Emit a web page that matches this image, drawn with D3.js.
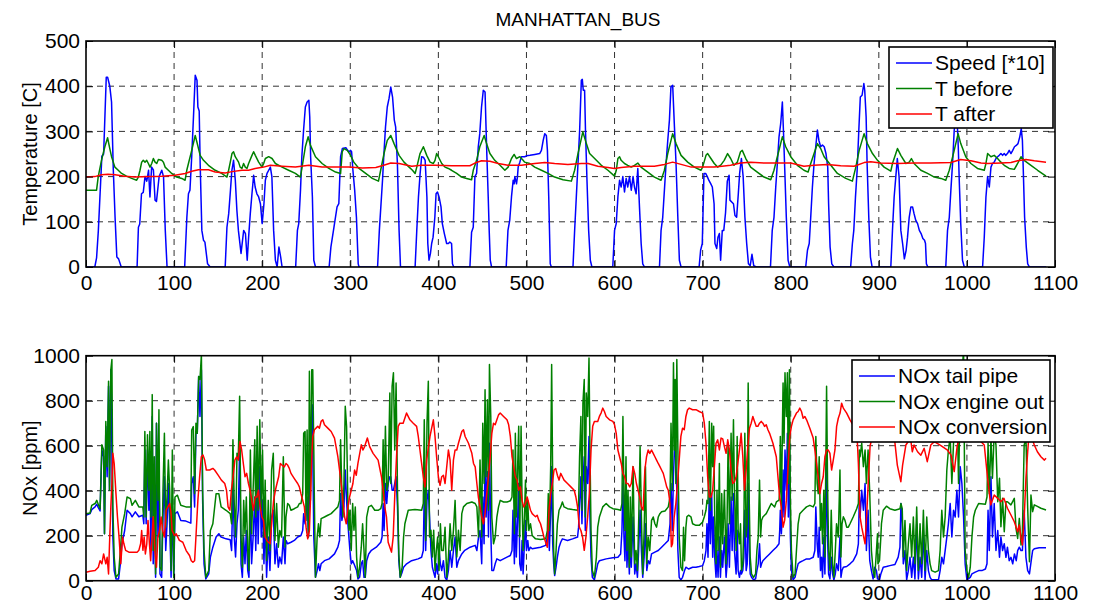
<!DOCTYPE html>
<html>
<head>
<meta charset="utf-8">
<script src="https://cdn.jsdelivr.net/npm/d3@7"></script>
<style>
  html, body { margin: 0; padding: 0; background: #fff; }
  svg { display: block; font-family: "Liberation Sans", Arial, Helvetica, sans-serif; }
</style>
</head>
<body>
<svg id="chart" width="1096" height="609"></svg>
<script>
// ---- Top panel: speed (x10) and catalyst temperatures, [time s, value] ----
const speed = [[0,0],[10,0],[12,20],[14,80],[18,245],[20,250],[23,420],[24.5,420],[27,400],[29,365],[31,215],[33,110],[35,22],[37,18],[40,0],[58,0],[59.5,88],[61,95],[63,162],[65,165],[67,200],[69,190],[71,214],[72.6,155],[74.5,221],[76.5,215],[78.4,148],[80,145],[83,200],[86,214],[88,200],[90,81],[92,0],[112,0],[114.5,110],[116.3,162],[118,170],[120,244],[122,332],[124,424],[126,413],[127,354],[128.5,345],[129.6,229],[131.5,81],[133.4,59],[135,55],[138,7],[141,0],[158,0],[160,88],[162,118],[164,170],[165.6,214],[167.5,236],[169.5,192],[171.3,125],[173,81],[176,30],[179,81],[181,74],[183,15],[184.6,66],[186.5,118],[188.4,162],[190.3,203],[192,177],[194,162],[196,155],[198,140],[200,96],[202,140],[203.6,192],[205.5,207],[207.4,214],[209.3,221],[211,200],[213,81],[215,15],[217,0],[219,44],[221,22],[222.6,0],[238,0],[240,81],[241.5,96],[243.5,170],[245,244],[247,303],[249,354],[251,365],[253,369],[254,332],[255,244],[257,155],[258.6,15],[260.5,0],[276,0],[278,44],[281.5,88],[285,133],[287,140],[289,244],[291,262],[295,264],[297,258],[298.5,255],[300.4,258],[301.5,255],[303,214],[305,170],[307,110],[309,7],[310,0],[331,0],[333,81],[336.6,192],[338,244],[340,310],[342,354],[344,373],[346,398],[348,376],[350,325],[351.5,310],[353.5,229],[355.4,81],[357,0],[373.6,0],[375.5,81],[377.4,155],[379.3,207],[381,244],[383,243],[385,236],[387,155],[388,52],[389.4,15],[391,30],[392.4,52],[394,66],[396,110],[397.4,162],[399,166],[400.8,155],[403,133],[404.5,96],[406.8,74],[409.4,52],[411.3,52],[413,55],[415,52],[416,7],[417.4,0],[435.8,0],[437.7,77],[439.6,88],[441.5,200],[443.4,207],[445.3,266],[447,295],[449,354],[451,391],[453,387],[454,317],[455.1,244],[456.6,155],[457.7,81],[458.9,15],[460.4,0],[477,0],[479,81],[481,103],[483,155],[484.9,192],[486,184],[486.8,200],[488.7,184],[489.8,200],[490.6,221],[492.5,232],[494.3,244],[498,244],[500,246],[504,247],[509.4,249],[515,251],[517,258],[519,280],[520.8,295],[522.6,291],[523.8,258],[525.3,155],[527,7],[528.3,0],[552.8,0],[554.7,81],[556.6,155],[558.5,229],[560.4,303],[562.3,413],[563.4,415],[564.5,391],[566,391],[567,303],[568.7,192],[570.6,81],[572.5,15],[574.3,0],[598,0],[600,81],[601.9,96],[603.8,155],[605.7,192],[607.5,177],[609.4,200],[611.3,166],[613.2,196],[615,177],[617,200],[619,170],[621,200],[622.6,177],[624.5,162],[626.4,218],[628.3,133],[630.2,52],[632,7],[634,0],[651,0],[652.8,81],[654.7,110],[656.6,170],[658.5,229],[660.4,280],[662.3,325],[664,398],[666,402],[668,310],[669.8,229],[671.7,118],[673.6,15],[675.5,0],[696,0],[697.7,37],[699.6,52],[701.5,207],[703.4,207],[705.3,200],[707,192],[709,185],[711,177],[713,140],[714,52],[716,41],[717.4,66],[719,74],[720.4,15],[722.3,81],[724,81],[726,120],[728,190],[730,203],[731,148],[733,144],[735,140],[736.7,114],[738.6,110],[740.5,162],[742,207],[744,240],[746,200],[748,110],[750,52],[752,7],[754,3],[756,28],[758,3],[761,0],[777,0],[779,81],[781,110],[783,177],[784.8,229],[786.7,288],[788.6,317],[790.5,365],[791.7,303],[793,229],[795,110],[797,15],[799,0],[817,0],[819,37],[821,52],[822.7,110],[824.6,177],[826.5,229],[828.4,266],[830.3,303],[832,280],[834,266],[836,270],[838,266],[840,251],[842,221],[843,140],[844.7,44],[846.6,7],[849,0],[868,0],[870,52],[871.6,81],[873.5,155],[875.4,214],[877.3,303],[879,376],[881,380],[883,406],[884,391],[885.6,332],[886.7,229],[888.6,110],[890.5,22],[892.4,0],[913.6,0],[915.5,81],[917.4,155],[919.3,200],[921,240],[923,200],[925,81],[927,52],[929,18],[931,37],[932.6,66],[934.5,110],[936.4,133],[938.3,133],[940,118],[942,103],[944,96],[946,81],[948,74],[950,63],[951.9,59],[953,52],[954,7],[955.7,0],[976,0],[978,81],[980,110],[981.8,170],[983.7,229],[985.6,303],[987.5,330],[989,320],[990.2,266],[991.3,192],[993,96],[995,15],[997,0],[1017.8,0],[1019.7,66],[1021.6,155],[1023.5,200],[1025.4,177],[1027.3,221],[1029,229],[1031,232],[1033,240],[1034.8,244],[1036.7,247],[1038.6,251],[1040.5,247],[1042.4,251],[1044,247],[1046,251],[1048,258],[1050,251],[1052,258],[1054,266],[1056,269],[1058,273],[1060,288],[1061.7,306],[1063,280],[1064,214],[1065.5,110],[1067.4,44],[1069,7],[1071,0],[1090,0]];

const tBefore = [[0,170],[12,170],[13.9,200],[17.6,236],[21.4,266],[24.5,286],[27,262],[29,244],[32.8,221],[36.6,214],[40.4,207],[46,201],[51.8,196],[57.5,192],[59.4,199],[61.3,214],[63.2,232],[65,236],[67,232],[68.9,236],[70.8,229],[72.7,221],[74.6,229],[76.5,240],[78.4,232],[80.3,229],[82.2,238],[86,236],[87.9,232],[89.8,221],[93.5,214],[97.3,207],[103,199],[108.7,196],[112.5,192],[114.4,214],[116.3,229],[120,258],[124,291],[125.8,277],[129.6,247],[133.4,236],[139,225],[146.7,214],[154,207],[160,199],[161.9,214],[163.8,232],[165.7,251],[167.5,255],[169.4,244],[173.2,232],[175,221],[177,218],[178.9,229],[180.8,221],[182.7,218],[184.6,229],[188.4,247],[190.3,255],[192.2,247],[196,232],[199.8,221],[201.7,229],[203.6,240],[207.4,244],[211.2,240],[215,229],[222.6,221],[230,214],[237.7,207],[243.4,199],[245.3,221],[249,266],[252.2,288],[254.8,269],[260.5,244],[268,229],[275.7,218],[283.3,210],[289,207],[290.9,255],[292.8,262],[296.6,258],[300.4,247],[304,232],[309.9,218],[317.5,207],[325,196],[332,190],[334.5,214],[338.3,251],[342,280],[346,291],[349.7,273],[355.4,247],[361,232],[366.8,221],[370.6,214],[373.6,207],[375.5,221],[379.2,251],[383,266],[386.8,247],[390.6,232],[394.3,229],[396.2,236],[398,251],[400,244],[403.8,229],[407.5,221],[411.3,218],[415,214],[420.8,207],[426.4,199],[432,196],[437.7,193],[439.6,214],[443.4,236],[447,266],[452,291],[454.7,273],[458.5,251],[464,236],[470,225],[475.5,214],[479.2,221],[483,240],[486,249],[488.7,240],[492.5,244],[496.2,236],[498,232],[503.8,229],[509.4,221],[517,214],[524.5,207],[532,199],[541.5,193],[551,190],[554.7,214],[558.5,251],[564,299],[568,273],[571.7,251],[577.4,240],[585,225],[592.5,214],[600,201],[602,214],[603.8,240],[605.7,244],[607.5,236],[611.3,229],[615,225],[619,221],[622.6,225],[626.4,230],[630,221],[637.7,210],[645.3,199],[652.8,192],[656.6,214],[660.4,251],[666,295],[669.8,273],[675.5,247],[683,232],[690.6,221],[698,214],[700,221],[703.8,247],[705.7,251],[709.4,240],[713.2,229],[717,221],[720.8,226],[724.5,236],[728.3,251],[731.8,240],[735.6,225],[739.4,232],[743,255],[745,258],[749,240],[754.5,221],[762,210],[769.7,199],[777.3,193],[781,214],[784.8,244],[790.5,288],[794.3,266],[800,244],[807.6,225],[815,214],[819.7,210],[822.7,229],[826.5,251],[830.3,273],[834,262],[837.9,244],[845.5,225],[853,207],[862.5,196],[870,190],[873.9,221],[877.7,258],[883.3,295],[887,273],[892.8,251],[898.5,236],[906,221],[913.6,212],[915.5,229],[919.3,251],[921.2,262],[925,247],[930.7,229],[934.5,232],[937,240],[940,229],[947.7,214],[955.3,207],[963,199],[970.5,196],[976,192],[980,214],[985.6,258],[990,295],[993,273],[998.7,244],[1004.5,229],[1012,218],[1019.7,214],[1021.6,229],[1023.5,251],[1027.3,244],[1031,247],[1034.8,240],[1038.6,232],[1042.4,225],[1048,218],[1053.8,216],[1057.6,229],[1061.4,244],[1065,236],[1072.7,225],[1080.3,214],[1089.8,201]];

const tAfter = [[0,199],[10,200],[17.6,204],[25,205],[33,204],[44,201],[55.6,199],[70.8,200],[86,201],[101,203],[112.5,207],[120,212],[127.7,215],[139,215],[146.7,210],[158,208],[165.7,211],[177,214],[184.6,214],[192,218],[201.7,221],[209.3,225],[222.6,223],[237.7,221],[253,225],[268,221],[283,221],[298.5,221],[313.7,219],[329,220],[338,225],[346,230],[355.4,229],[369.8,223],[381,225],[396,225],[415,224],[435.8,224],[441.5,230],[449,235],[458.5,234],[468,229],[479,225],[494.3,225],[509.4,229],[520.8,231],[532,229],[547,227],[562.3,229],[570,229],[581,223],[592.5,220],[600,218],[607.5,220],[622.6,223],[645.3,223],[656.6,227],[666,232],[675.5,227],[687,221],[698,221],[713,221],[722,223],[731.8,225],[743,230],[754.5,232],[769.7,230],[784.8,230],[800,230],[815,223],[826.5,225],[841.7,227],[856.8,224],[872,223],[883.3,231],[890.9,233],[902,230],[921,229],[940,230],[959,230],[981.8,231],[993,238],[1004.5,235],[1016,230],[1023.5,229],[1038.6,230],[1050,231],[1057.6,235],[1067,238],[1076.5,235],[1089.8,232]];

// ---- Bottom panel: NOx, [time s, ppm] ----
const noxTailPipe = [[0,291],[4.6,298],[6.5,316],[10.3,328],[12.2,340],[14,325],[16,310],[18,581],[20,551],[21,209],[22.5,685],[24,462],[25.6,864],[26.7,402],[28.2,938],[29.4,581],[30.5,194],[32,45],[34,8],[37,8],[39,75],[40.8,164],[43.9,223],[46.6,313],[50.4,298],[52.3,284],[56,306],[60,284],[64.5,291],[65.6,253],[66.8,581],[68.3,253],[69.8,581],[71.4,313],[72.5,492],[73.7,134],[75.2,730],[76.3,75],[77.5,432],[79,15],[80,700],[81.7,194],[82.8,581],[84,30],[85.9,15],[87.4,283],[89,462],[90.5,134],[92,253],[93.5,432],[95,253],[96.6,15],[98,357],[99.6,15],[101,298],[103.8,306],[107.6,268],[113.4,265],[119,256],[120,432],[121.8,462],[123.3,328],[124.8,655],[126.3,655],[127.9,908],[129.4,730],[131,938],[132.4,357],[134,75],[136,8],[139.3,30],[141.2,105],[144,149],[147.7,194],[150.8,209],[153.4,194],[159,186],[163.7,182],[165.3,134],[166.8,432],[168.3,194],[169.8,105],[171.4,253],[172.9,313],[174.4,581],[176,75],[177.5,15],[179,194],[180.5,75],[182,223],[183.6,45],[185,15],[186.6,357],[188,75],[189.7,194],[191.6,372],[192.7,134],[194.3,462],[195.4,164],[197.3,506],[198.9,194],[200.4,357],[202,75],[203.4,283],[205,15],[206.9,194],[208.8,45],[210.7,283],[212.6,313],[214.5,75],[216.4,164],[218.3,60],[220,105],[222,75],[224,194],[225.9,75],[227,179],[228.9,164],[232.7,171],[236.5,179],[240.3,194],[244,201],[246,223],[247.1,298],[248.7,253],[251,372],[252.5,194],[253.6,372],[255.5,611],[256.8,782],[258.6,194],[260.5,15],[262.4,45],[263.9,75],[265.4,45],[266.9,75],[270.7,89],[276,97],[282.1,119],[285.9,149],[287.8,179],[289,387],[290.5,268],[292.8,328],[294.3,492],[295.8,358],[297.3,253],[299.6,134],[301.1,75],[302.7,89],[304.2,75],[307.2,45],[308.7,8],[310.6,15],[312.5,75],[314,89],[315.6,15],[317,15],[318.6,89],[320.9,119],[324,135],[329.5,149],[334.6,171],[336.1,194],[337.3,343],[338.4,223],[339.9,432],[341.4,343],[343,432],[344.9,462],[346,462],[347.5,402],[349,402],[352,462],[353.6,328],[355.1,89],[356.7,15],[358.9,38],[360.5,60],[364,75],[369.6,89],[377,97],[381,104],[382.9,134],[384,402],[385.6,134],[387.1,358],[388.6,402],[390,283],[391.6,134],[393.2,60],[396.2,15],[397.7,75],[399.2,30],[400.8,134],[402.3,75],[403.8,45],[405.7,89],[407.6,15],[409.5,2],[411.4,45],[413.3,134],[415.2,60],[417.1,134],[419,194],[420.9,60],[422.8,89],[424.7,105],[426.6,119],[430,135],[436,149],[441.8,157],[443.7,134],[445.6,194],[447.3,223],[449.2,75],[450.4,372],[451.9,164],[453,611],[454.2,283],[455.7,484],[456.9,194],[458,611],[459.5,223],[460.7,45],[462.6,45],[464.5,75],[466.4,97],[470.2,89],[474,97],[477.9,105],[481.7,112],[483.6,134],[484.7,313],[486.3,75],[487.4,357],[488.5,105],[490,283],[491.2,432],[492.4,75],[493.9,45],[495,179],[496.2,30],[497.7,164],[498.9,268],[500,134],[501.5,179],[502.7,134],[504.6,149],[506.5,142],[516,149],[521.8,157],[523.7,194],[524.8,238],[526,134],[527.5,313],[528.6,507],[529.8,164],[530.9,75],[532,23],[533.6,60],[535.1,105],[537,149],[538.9,171],[540.8,186],[546.6,179],[552.3,186],[558,194],[559.2,238],[560.3,343],[561.8,462],[563,253],[564.1,432],[565.6,551],[566.8,223],[567.9,507],[569.5,432],[571,641],[572.1,283],[573.3,105],[574.8,15],[577.1,4],[579.4,45],[580.9,75],[582.8,89],[590.5,97],[598.1,102],[603.8,104],[606.9,119],[608.4,223],[609.5,432],[610.7,194],[611.8,89],[613,313],[614.1,60],[615.3,194],[616.8,30],[617.9,194],[619,60],[621,283],[622.9,30],[624.4,75],[626,15],[627.5,149],[629,313],[630.5,134],[632,15],[633.6,105],[635.1,253],[636.6,45],[638.2,89],[640,75],[642,119],[645.8,127],[649.6,134],[653.4,149],[657.3,164],[661,179],[663,253],[664.1,432],[665.6,223],[666.8,462],[668.7,641],[670.7,402],[671.9,134],[673.4,15],[675.3,4],[677.2,15],[679.5,45],[681,60],[684,52],[688.6,60],[692.4,60],[696.2,63],[700,67],[701.9,89],[703.8,134],[704.9,253],[706.1,104],[707.6,402],[708.7,164],[710.3,387],[711.4,104],[712.5,283],[713.7,104],[715.2,15],[716.3,134],[717.5,15],[719,194],[720.2,15],[721.7,134],[722.8,60],[724.7,194],[726.6,15],[727.8,75],[728.9,253],[730.4,60],[732.3,372],[733.5,134],[735,387],[736.1,134],[738,30],[739.2,224],[740.3,45],[741.8,15],[743,45],[744.1,30],[745.6,45],[746.8,104],[747.9,313],[749.4,45],[750.6,75],[751.7,432],[752.9,134],[754,30],[755.5,15],[757.8,4],[760.1,8],[761.6,45],[763.1,75],[764.6,164],[765.8,60],[766.9,75],[768.4,89],[772.2,104],[776,119],[779.8,134],[783.7,149],[786.7,164],[787.5,224],[788.2,313],[789.4,209],[790.5,313],[791.3,492],[792.4,283],[793.5,581],[795,402],[796.2,655],[797.3,283],[798.5,611],[799.6,194],[800.8,45],[802.7,4],[804.9,15],[806.5,45],[808.4,75],[810.3,82],[814,89],[817.9,97],[821.7,97],[825.5,104],[827.4,134],[828.5,328],[830,164],[831.2,104],[832.3,238],[833.8,45],[835,104],[836.1,15],[837.6,194],[838.8,30],[840.7,522],[841.8,194],[843,30],[844.5,8],[846,104],[847.5,30],[849,4],[850.6,30],[852,75],[854,45],[855.9,194],[857,15],[858.2,45],[859.7,60],[863.5,63],[867.3,75],[871,89],[874.9,119],[876.8,164],[877.9,372],[878.7,283],[880.6,402],[882.5,313],[884.4,432],[885.9,134],[887.8,313],[889.7,89],[891.6,45],[893.5,8],[895.4,60],[897.3,45],[898.5,8],[900.8,4],[902.3,30],[905,60],[908.7,63],[912.5,67],[918.3,72],[922,105],[924,149],[925.1,343],[926.6,253],[927.8,75],[929.7,134],[931.6,4],[933.5,45],[935.4,104],[937.3,15],[939.2,104],[941,8],[943,253],[944.9,8],[946.8,104],[948.7,15],[950.6,223],[952.5,4],[954.4,134],[956.3,45],[958.2,15],[960,4],[967.7,4],[969.6,45],[971.5,104],[973.4,75],[975.3,134],[977.2,194],[979,253],[981,343],[982.9,194],[984.8,313],[986.7,283],[988.6,402],[990.5,283],[992.4,507],[994.3,432],[996.2,283],[998,75],[1000,4],[1003.8,15],[1005.7,30],[1009.5,38],[1013.3,45],[1017,45],[1021,52],[1022.8,75],[1024,313],[1025.4,134],[1027.3,462],[1029,194],[1031,343],[1033,134],[1035,223],[1037,104],[1038.6,194],[1040.5,134],[1042.4,164],[1044.3,104],[1046,149],[1048,89],[1050,104],[1052,75],[1054,119],[1056,89],[1057.6,134],[1059.5,149],[1061.4,134],[1063,134],[1065,313],[1067,104],[1069,45],[1071,30],[1073,89],[1074.6,134],[1076.5,142],[1082,146],[1089.8,146]];

const noxEngineOut = [[0,298],[4.6,301],[6.5,335],[10.3,343],[12.2,357],[14,339],[16,320],[18,604],[20,581],[21,209],[22.5,708],[24,506],[25.6,886],[26.7,402],[28.2,938],[29.4,983],[30.5,328],[32,105],[34,15],[37,30],[39,134],[40.8,238],[43.9,298],[46.6,372],[50.4,365],[52.3,335],[56,357],[60,328],[64.5,328],[65.6,283],[66.8,663],[68.3,283],[69.8,649],[71.4,402],[72.5,663],[73.7,283],[75.2,827],[76.3,134],[77.5,551],[79,30],[80,700],[81.7,358],[82.8,760],[84,60],[85.9,45],[87.4,402],[89,655],[90.5,238],[92,372],[93.5,536],[95,402],[96.6,45],[98,581],[99.6,15],[101,372],[103.8,380],[107.6,335],[113.4,328],[119,328],[120,670],[121.8,685],[123.3,387],[124.8,700],[126.3,655],[127.9,908],[129.4,894],[131,1005],[132.4,402],[134,135],[136,15],[139.3,45],[141.2,223],[144,253],[147.7,387],[150.8,387],[153.4,328],[159,313],[163.7,298],[165.3,253],[166.8,626],[168.3,343],[169.8,194],[171.4,566],[172.9,551],[174.4,820],[176,194],[177.5,60],[179,357],[180.5,209],[182,372],[183.6,134],[185,45],[186.6,581],[188,209],[189.7,402],[191.6,626],[192.7,283],[194.3,686],[195.4,313],[197.3,715],[198.9,313],[200.4,581],[202,194],[203.4,447],[205,90],[206.9,357],[208.8,134],[210.7,492],[212.6,566],[214.5,179],[216.4,343],[218.3,149],[220,223],[222,194],[224,551],[225.9,150],[227,284],[228.9,343],[230.8,335],[232.7,313],[236.5,320],[240.3,328],[242.2,343],[244,343],[246,387],[247.1,655],[248.7,663],[249.8,268],[251,670],[252.5,194],[253.6,931],[254.8,357],[256.3,938],[257.4,938],[258.6,581],[259.3,343],[260.5,15],[262.4,194],[263.9,253],[265.4,194],[266.9,276],[270.7,283],[274.5,291],[278.3,298],[282.1,313],[285.9,328],[287.8,357],[289,626],[290.5,387],[291.6,283],[292.8,432],[294.3,775],[295.8,685],[297.3,343],[298.5,224],[299.6,313],[301.1,134],[302.7,343],[304.2,224],[305.7,328],[307.2,105],[308.7,15],[310.6,60],[312.5,149],[314,253],[315.6,134],[317,15],[318.6,283],[320.9,328],[324,335],[327.8,313],[331.6,313],[334.6,320],[336.1,343],[337.3,626],[338.4,357],[339.9,686],[341.4,402],[343,432],[344.9,834],[346,432],[347.5,864],[349,924],[350.5,581],[352,879],[353.6,402],[355.1,119],[356.7,15],[358.9,60],[360.5,194],[362,253],[365.8,313],[373.4,316],[381,313],[382.9,343],[384,715],[385.6,179],[387.1,700],[388.6,886],[390,194],[391.6,224],[393.2,105],[394.7,224],[396.2,45],[397.7,134],[399.2,194],[400.8,45],[402.3,253],[403.8,134],[405.7,134],[407.6,238],[409.5,15],[411.4,105],[413.3,253],[415.2,134],[417.1,224],[419,357],[420.9,105],[422.8,224],[424.7,134],[426.6,298],[428.5,328],[432.3,343],[438,350],[441.8,343],[443.7,328],[445.6,194],[447.3,536],[449.2,194],[450.4,700],[451.9,432],[453,849],[454.2,462],[455.7,804],[456.9,313],[458,961],[459.5,730],[460.7,283],[462.6,164],[464.5,194],[466.4,283],[468.3,328],[470.2,357],[474,350],[477.9,350],[481.7,355],[483.6,372],[484.7,581],[486.3,209],[487.4,655],[488.5,283],[490,507],[491.2,686],[492.4,194],[493.9,686],[495,357],[496.2,134],[497.7,283],[498.9,447],[500,223],[501.5,357],[502.7,223],[504.6,253],[506.5,201],[510.3,186],[516,183],[521.8,186],[523.7,223],[524.8,387],[526,223],[527.5,507],[528.6,961],[529.8,432],[530.9,134],[532,30],[533.6,134],[535.1,253],[537,313],[538.9,328],[540.8,350],[542.7,328],[546.6,320],[552.3,316],[558,313],[559.2,343],[560.3,551],[561.8,730],[563,313],[564.1,789],[565.6,894],[566.8,283],[567.9,834],[569.5,730],[571,990],[572.1,581],[573.3,223],[574.8,45],[577.1,15],[579.4,105],[580.9,238],[582.8,283],[586.6,328],[590.5,343],[594.3,328],[598.1,320],[603.8,316],[606.9,313],[608.4,343],[609.5,730],[610.7,372],[611.8,223],[613,551],[614.1,134],[615.3,402],[616.8,60],[617.9,372],[619,105],[621,507],[622.9,75],[624.4,134],[626,45],[627.5,283],[629,596],[630.5,283],[632,30],[633.6,223],[635.1,507],[636.6,75],[638.2,194],[640,134],[642,268],[643.9,283],[645.8,253],[647.7,238],[649.6,283],[651.5,298],[653.4,306],[657.3,310],[661,328],[663,372],[664.1,700],[665.6,402],[666.9,969],[668,581],[668.8,894],[669.6,432],[670.7,983],[671.9,581],[673.4,194],[675.3,60],[677.2,45],[678.3,238],[679.5,89],[681,238],[682.1,284],[684,291],[686.7,284],[688.6,253],[692.4,246],[696.2,246],[700,261],[701.9,284],[703.8,313],[704.9,357],[706.1,343],[707.6,708],[708.7,313],[710.3,700],[711.4,507],[712.5,686],[713.7,283],[715.2,75],[716.3,402],[717.5,134],[719,521],[720.2,60],[721.7,387],[722.8,164],[724.7,402],[726.6,75],[727.8,283],[728.9,611],[730.4,253],[732.3,655],[733.5,358],[735,715],[736.1,402],[738,134],[739.2,641],[740.3,224],[741.8,164],[743,253],[744.1,45],[745.6,75],[746.8,253],[747.9,655],[749.4,194],[750.6,253],[751.7,879],[752.9,358],[754,105],[755.5,30],[757.8,15],[760.1,30],[761.6,134],[763.1,194],[764.6,447],[765.8,194],[766.9,268],[768.4,283],[770.3,291],[772.2,298],[774.1,313],[776,328],[777.9,343],[779.8,335],[781.7,328],[783.7,350],[786.7,358],[787.5,402],[788.2,641],[789.4,313],[790.5,655],[791.3,879],[792.4,611],[793.5,924],[795,730],[796.2,924],[797.3,432],[798.5,938],[799.6,358],[800.8,134],[802.7,15],[804.9,30],[806.5,134],[808.4,253],[810.3,298],[814,313],[817.9,328],[821.7,335],[825.5,328],[827.4,343],[828.5,641],[830,432],[831.2,387],[832.3,551],[833.8,224],[835,343],[836.1,164],[837.6,402],[838.8,105],[840.7,864],[841.8,432],[843,134],[844.5,45],[846,313],[847.5,75],[849,15],[850.6,134],[852,253],[854,194],[855.9,492],[857,105],[858.2,253],[859.7,284],[861.6,268],[863.5,238],[865.4,238],[867.3,253],[871,284],[874.9,320],[876.8,343],[877.9,581],[878.7,551],[880.6,611],[882.5,507],[884.4,581],[885.9,432],[887.8,581],[889.7,387],[891.6,134],[893.5,45],[895.4,15],[897.3,134],[898.5,209],[899,75],[900.8,90],[902.3,194],[903,253],[905,313],[908.7,331],[912.5,320],[918.3,313],[924,320],[925.1,343],[926.6,320],[927.8,105],[929.7,268],[931.6,45],[933.5,164],[935.4,253],[937.3,105],[939.2,283],[941,75],[943,328],[944.9,45],[946.8,253],[948.7,75],[950.6,313],[952.5,45],[954.4,283],[956.3,134],[958.2,75],[960,45],[963.9,38],[967.7,45],[969.6,134],[971.5,313],[973.4,194],[975.3,283],[977.2,492],[979,581],[981,641],[982.9,432],[984.8,611],[986.7,720],[988.6,820],[990.5,432],[992.4,800],[994.3,900],[996.2,1030],[998,134],[1000,45],[1001.9,15],[1003.8,60],[1005.7,194],[1007.6,283],[1009.5,313],[1011.4,328],[1013.3,343],[1021,340],[1022.8,372],[1024,611],[1025.4,387],[1027.3,633],[1029,455],[1031,660],[1033,603],[1035,351],[1037,455],[1038.6,240],[1040.5,366],[1042.4,218],[1044.3,351],[1046,351],[1050,337],[1053.8,366],[1055.7,233],[1057.6,188],[1059.5,277],[1061.4,159],[1063,218],[1065,603],[1067,633],[1069,322],[1071,84],[1072.7,381],[1074.6,307],[1076.5,337],[1080,330],[1084,322],[1089.8,314]];

const noxConversion = [[0,38],[4.6,42],[10.3,45],[14,60],[16,89],[18,75],[20,119],[22.5,75],[24,104],[25.6,30],[26.7,164],[28.2,328],[29.4,432],[30.5,566],[32,521],[34,387],[35.7,284],[37.5,194],[39.5,75],[41.5,194],[43,164],[45,135],[48.7,127],[52.5,127],[58.2,127],[60,135],[62,164],[63.2,223],[64.6,135],[66,194],[67.4,119],[69,164],[70.4,268],[72,164],[73.4,89],[75,194],[76.3,284],[78.2,134],[80,60],[81.6,194],[83.5,223],[85.3,283],[87,223],[89,194],[91,313],[93,328],[95,343],[96.6,298],[97.7,223],[100.4,201],[102.3,209],[106,179],[109.9,171],[113.7,134],[117.5,112],[119.5,89],[121.4,82],[123.3,89],[125,209],[127,357],[129,462],[130.9,551],[132.8,559],[134.7,536],[136.6,492],[140.4,492],[144,499],[146,492],[150,469],[153.7,447],[157.5,432],[159.5,402],[161.3,328],[163.3,313],[165,402],[167,462],[169,536],[171,551],[172.9,536],[174.8,619],[176.7,581],[178.6,521],[180.5,462],[182.4,477],[184.4,432],[186.3,402],[188.2,357],[190,313],[192,372],[194,372],[195.8,402],[197.7,328],[199.6,283],[201.5,268],[203.4,194],[205.3,179],[207,171],[209,164],[211,268],[213,357],[215,402],[216.8,432],[218.7,462],[220.6,521],[222.5,514],[225.1,506],[227,521],[228.9,514],[230.8,499],[232.7,477],[236.5,454],[240.3,432],[242.2,417],[244,387],[246,357],[247.9,328],[249.8,238],[251.7,186],[253.6,223],[254.8,357],[256.3,551],[257.4,641],[259.3,671],[263.1,686],[265,678],[266.9,708],[268.8,715],[270.7,693],[274.5,678],[278.3,663],[282.1,634],[285.9,551],[287.8,492],[289.7,432],[291.6,357],[293.5,284],[295.4,253],[297.3,328],[299.2,372],[301.1,402],[303,432],[304.9,492],[306.8,469],[308.7,521],[312.5,604],[314.4,581],[316.3,596],[319.4,634],[322,596],[325.9,566],[331.6,536],[335.4,462],[337.3,402],[339.2,328],[341.1,284],[343,171],[344.9,149],[346.8,127],[348.7,194],[350.6,387],[352.5,551],[354.4,686],[356.3,700],[360,700],[363.9,745],[367.7,715],[371.5,700],[375.3,686],[377.2,641],[379.1,581],[381,521],[382.9,462],[384.8,417],[386.7,536],[390.5,641],[394.3,715],[396.2,641],[398,551],[400,462],[401.9,424],[403.8,462],[405.7,469],[407.6,432],[411.4,581],[413.3,536],[415.2,402],[417.1,536],[419,581],[420.9,581],[422.8,611],[426.6,663],[428.5,671],[430.4,641],[434.2,611],[438,566],[439.9,521],[441.8,506],[443.7,432],[445.4,372],[447.3,328],[449.2,284],[451.1,253],[453,298],[454.9,387],[456.9,462],[458.8,551],[460.7,655],[462.6,700],[464.5,693],[466.4,715],[468.3,737],[470.2,745],[474,730],[477.9,715],[479.8,693],[481.7,641],[483.6,551],[485.5,507],[487.4,462],[489.3,447],[491.2,402],[493.1,417],[495,357],[496.9,328],[498.9,343],[500.8,372],[502.7,343],[504.6,313],[506.5,298],[508.4,291],[510.3,284],[512.2,291],[514.1,268],[516,253],[518,223],[519.8,194],[521.8,171],[523.7,149],[525.6,313],[527.5,387],[529.4,432],[531.3,492],[533.2,499],[535.1,469],[537,447],[538.9,477],[540.8,462],[542.7,447],[546.6,432],[550.4,417],[554.2,402],[556.1,372],[558,328],[560,238],[561.8,223],[563.7,194],[565.6,135],[567.5,194],[569.5,284],[571.4,387],[573.3,581],[575.2,686],[577.1,708],[580.9,708],[582.8,730],[584.7,745],[586.6,767],[588.5,752],[590.5,730],[594.3,715],[598.1,708],[600,693],[601.9,655],[603.8,581],[605.7,551],[607.6,521],[609.5,477],[611.4,462],[613.3,432],[615.3,432],[617.2,417],[619,432],[621,507],[622.9,477],[624.8,432],[626.7,402],[628.6,372],[630.5,328],[632.4,313],[634.4,492],[636.3,551],[638.2,581],[640,566],[642,581],[643.9,566],[645.8,551],[647.7,536],[649.6,521],[651.5,507],[653.4,492],[655.3,477],[657.3,447],[659.2,417],[661,402],[663,343],[664.5,151],[665.8,164],[667.7,284],[669.6,343],[671.5,432],[673.4,536],[675.3,641],[677.2,678],[679.1,671],[681,730],[682.9,760],[684.8,767],[688.6,760],[692.4,760],[696.2,752],[700,745],[701.9,700],[703.8,611],[705.7,462],[707.6,372],[709.5,372],[711.4,402],[713.3,507],[715.2,611],[717.1,626],[719,581],[720.9,634],[722.8,630],[724.7,596],[726.6,566],[728.5,626],[730.4,581],[732.3,492],[734.2,432],[736.1,440],[738,462],[739.9,521],[741.8,581],[743.7,655],[745.6,551],[747.5,402],[749.4,492],[751.3,596],[753.2,678],[755.1,700],[757,730],[758.9,708],[760.8,686],[762.7,686],[764.6,700],[766.5,708],[768.4,700],[770.3,686],[772.2,693],[774.1,671],[776,655],[779.8,611],[781.7,581],[783.6,551],[785.5,462],[787.4,372],[789.3,328],[791.3,238],[793.1,268],[795,357],[797,507],[798.9,641],[800.8,686],[802.7,715],[806.5,745],[808.4,752],[810.3,767],[812.2,752],[814.1,722],[816,730],[818,715],[821.7,678],[825.5,634],[827.4,581],[829.3,521],[831.2,462],[833.1,387],[835,432],[836.9,462],[838.8,551],[840.7,581],[842.6,581],[844.5,566],[846.4,492],[848.3,536],[850.2,581],[852.1,686],[854,722],[856,745],[857.8,789],[859.7,767],[863.5,745],[867.3,715],[871,690],[874.9,680],[876.8,520],[878.7,284],[880.6,238],[882.5,200],[884.4,164],[886.3,300],[888.2,450],[890.1,600],[892,630],[896,700],[905,710],[912,700],[917,660],[921,514],[925,440],[927,514],[930.7,603],[936,633],[938,573],[940,603],[944,573],[947.7,558],[951.5,588],[955,529],[959,603],[963,618],[970.5,600],[978,580],[982,558],[985.6,485],[989,600],[993,650],[1000.8,680],[1008,650],[1019.7,603],[1023.5,455],[1027,337],[1031,381],[1035,366],[1038.6,351],[1042,366],[1046,322],[1050,292],[1053.8,262],[1057.6,218],[1059.5,248],[1061.4,188],[1063,159],[1065,277],[1067,455],[1069,573],[1071,677],[1072.7,647],[1076.5,603],[1080,573],[1084,551],[1088,536],[1089.8,544]];

const xTicks = [0, 100, 200, 300, 400, 500, 600, 700, 800, 900, 1000, 1100];
const tempTicks = [0, 100, 200, 300, 400, 500];
const noxTicks = [0, 200, 400, 600, 800, 1000];

const topSeries = [
  { name: "Speed [*10]", data: speed, color: "#0000ff" },
  { name: "T before", data: tBefore, color: "#008000" },
  { name: "T after", data: tAfter, color: "#ff0000" }
];
const bottomSeries = [
  { name: "NOx tail pipe", data: noxTailPipe, color: "#0000ff" },
  { name: "NOx engine out", data: noxEngineOut, color: "#008000" },
  { name: "NOx conversion", data: noxConversion, color: "#ff0000" }
];

const svg = d3.select("#chart");
const FONT = 21;
const left = 86, right = 1055;
const fmt = d3.format("d");

const x = d3.scaleLinear().domain([0, 1100]).range([left, right]);

function panel(opts) {
  const { top, bottom, yDomain, yTicks, yLabel, series, legend, id, xPad } = opts;
  const y = d3.scaleLinear().domain(yDomain).range([bottom, top]);
  const g = svg.append("g");

  g.append("clipPath").attr("id", id)
    .append("rect").attr("x", left).attr("y", top)
    .attr("width", right - left).attr("height", bottom - top);

  // dashed grid
  const grid = g.append("g").attr("stroke", "#000").attr("stroke-width", 1)
    .attr("stroke-dasharray", "6,5").attr("opacity", 0.8);
  xTicks.slice(1, -1).forEach(t => grid.append("line")
    .attr("x1", x(t)).attr("x2", x(t)).attr("y1", top).attr("y2", bottom));
  yTicks.slice(1, -1).forEach(t => grid.append("line")
    .attr("x1", left).attr("x2", right).attr("y1", y(t)).attr("y2", y(t)));

  // data lines
  const line = d3.line().x(d => x(d[0])).y(d => y(d[1]));
  const lines = g.append("g").attr("clip-path", `url(#${id})`);
  series.forEach(s => lines.append("path")
    .attr("d", line(s.data)).attr("fill", "none")
    .attr("stroke", s.color).attr("stroke-width", 1.5)
    .attr("stroke-linejoin", "round"));

  // axes with inward ticks on all four sides
  const tick = 7;
  const ax = g.append("g");
  ax.append("g").attr("transform", `translate(0,${bottom})`)
    .call(d3.axisBottom(x).tickValues(xTicks).tickFormat(fmt).tickSizeInner(-tick).tickSizeOuter(0).tickPadding(xPad))
    .call(a => a.select(".domain").remove());
  ax.append("g").attr("transform", `translate(0,${top})`)
    .call(d3.axisTop(x).tickValues(xTicks).tickSizeInner(-tick).tickSizeOuter(0).tickFormat(""))
    .call(a => a.select(".domain").remove());
  ax.append("g").attr("transform", `translate(${left},0)`)
    .call(d3.axisLeft(y).tickValues(yTicks).tickFormat(fmt).tickSizeInner(-tick).tickSizeOuter(0).tickPadding(6))
    .call(a => a.select(".domain").remove());
  ax.append("g").attr("transform", `translate(${right},0)`)
    .call(d3.axisRight(y).tickValues(yTicks).tickSizeInner(-tick).tickSizeOuter(0).tickFormat(""))
    .call(a => a.select(".domain").remove());
  ax.selectAll("text").attr("font-size", FONT)
    .attr("font-family", "Liberation Sans, Arial, sans-serif").attr("fill", "#000");
  ax.selectAll(".tick line").attr("stroke", "#000").attr("stroke-width", 1);

  g.append("rect").attr("x", left).attr("y", top)
    .attr("width", right - left).attr("height", bottom - top)
    .attr("fill", "none").attr("stroke", "#000").attr("stroke-width", 1.6);

  g.append("text")
    .attr("transform", `translate(37,${(top + bottom) / 2}) rotate(-90)`)
    .attr("text-anchor", "middle").attr("font-size", FONT - 1).text(yLabel);

  // legend
  const lg = g.append("g");
  lg.append("rect").attr("x", legend.x).attr("y", legend.y)
    .attr("width", legend.w).attr("height", legend.h)
    .attr("fill", "#fff").attr("stroke", "#000").attr("stroke-width", 1.6);
  series.forEach((s, i) => {
    const cy = legend.y + 16 + i * 25.5;
    lg.append("line").attr("x1", legend.x + 7).attr("x2", legend.x + 43)
      .attr("y1", cy).attr("y2", cy).attr("stroke", s.color).attr("stroke-width", 1.5);
    lg.append("text").attr("x", legend.x + 46).attr("y", cy + 7)
      .attr("font-size", FONT).text(s.name);
  });
}

svg.append("text").attr("x", 578).attr("y", 26).attr("text-anchor", "middle")
  .attr("font-size", FONT - 2).text("MANHATTAN_BUS");

panel({
  id: "clipTop", top: 41, bottom: 267, yDomain: [0, 500], yTicks: tempTicks,
  yLabel: "Temperature [C]", series: topSeries, xPad: 8,
  legend: { x: 889, y: 47, w: 164, h: 81 }
});
panel({
  id: "clipBottom", top: 355.7, bottom: 580.7, yDomain: [0, 1000], yTicks: noxTicks,
  yLabel: "NOx [ppm]", series: bottomSeries, xPad: 4,
  legend: { x: 852, y: 360, w: 198, h: 82 }
});
</script>
</body>
</html>
